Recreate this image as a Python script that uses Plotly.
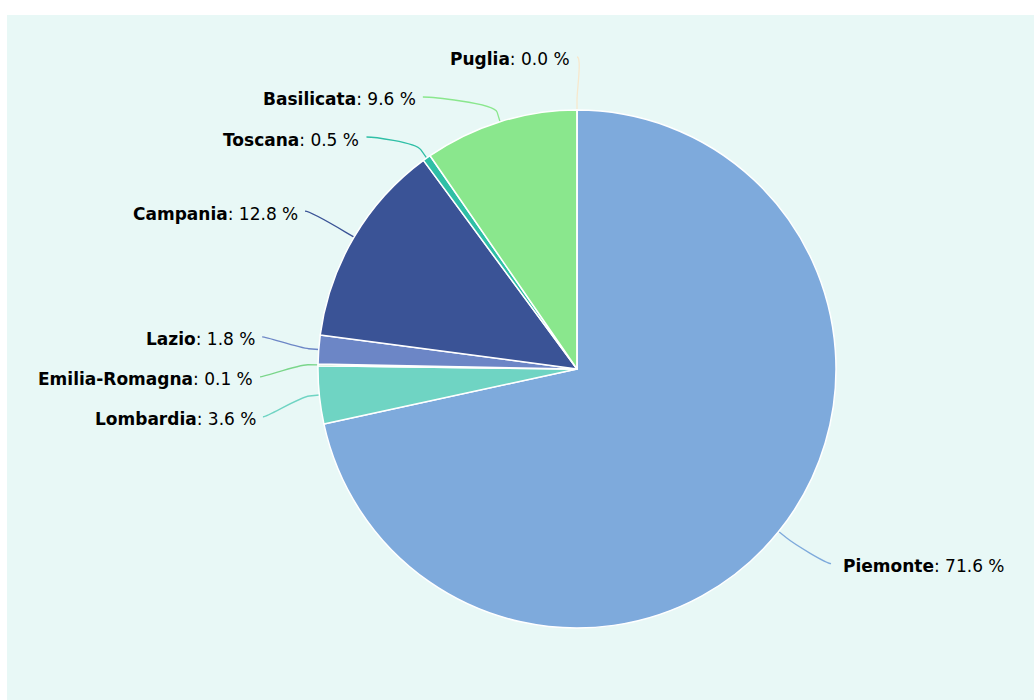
import math
import plotly.graph_objects as go

# ---------------- data ----------------
regions = ["Piemonte", "Lombardia", "Emilia-Romagna", "Lazio",
           "Campania", "Toscana", "Basilicata", "Puglia"]
shares = [71.6, 3.6, 0.1, 1.8, 12.8, 0.5, 9.6, 0.0]
colors = ["#7eaadc", "#6fd4c3", "#7ad68a", "#6c86c6",
          "#3a5396", "#2fbfa6", "#8ae78d", "#f7e8cd"]

# ---------------- layout constants ----------------
W, H = 1034, 700
CX, CY, RAD = 577, 369, 259          # pie centre / radius in px
LABEL_R = 310                        # natural label radius
GETX_R = 317                         # radius used to place labels horizontally
BREAK_R = RAD + 10                   # connector break radius
BOX = 40                             # label slot height
FONT = "DejaVu Sans"


def px(x):
    return x / W


def py(y):
    return 1 - y / H


total = sum(shares)
cum = 0.0
items = []
for name, v, c in zip(regions, shares, colors):
    mid = (cum + v / 2) / total
    cum += v
    th = 2 * math.pi * mid
    left = mid > 0.5
    items.append(dict(name=name, v=v, c=c, th=th, left=left,
                      target=CY - LABEL_R * math.cos(th)))


def distribute(lst, lo=57, hi=H - 40):
    lst = sorted(lst, key=lambda d: d["target"])
    clusters = [[d] for d in lst]

    def top_of(cl):
        ts = [d["target"] for d in cl]
        mid = (min(ts) + max(ts)) / 2
        if len(cl) > 1:
            mid += 4
        top = mid - BOX * (len(cl) - 1) / 2
        return min(max(top, lo), hi - BOX * (len(cl) - 1))

    changed = True
    while changed:
        changed = False
        for k in range(len(clusters) - 1):
            a, b = clusters[k], clusters[k + 1]
            if top_of(b) < top_of(a) + BOX * len(a):
                clusters[k] = a + b
                del clusters[k + 1]
                changed = True
                break
    for cl in clusters:
        t = top_of(cl)
        for i, d in enumerate(cl):
            d["y"] = t + BOX * i


distribute([d for d in items if d["left"]])
distribute([d for d in items if not d["left"]])

shapes = [dict(type="rect", xref="paper", yref="paper",
               x0=px(7), x1=1, y0=0, y1=py(15),
               fillcolor="#e8f8f6", line=dict(width=0), layer="below")]
annotations = []
for d in items:
    sgn = -1 if d["left"] else 1
    ly = d["y"]
    dy = ly - 5 - CY
    off = math.sqrt(max(GETX_R ** 2 - dy ** 2, 0))
    lx = CX + sgn * off
    tx = CX + RAD * math.sin(d["th"])
    ty = CY - RAD * math.cos(d["th"])
    bx = CX + BREAK_R * math.sin(d["th"])
    by = CY - BREAK_R * math.cos(d["th"])
    c1x = lx - sgn * 5
    c2x, c2y = 2 * bx - tx, 2 * by - ty
    path = (f"M {px(lx)},{py(ly)} C {px(c1x)},{py(ly)} {px(c2x)},{py(c2y)} "
            f"{px(bx)},{py(by)} L {px(tx)},{py(ty)}")
    shapes.append(dict(type="path", xref="paper", yref="paper", path=path,
                       line=dict(color=d["c"], width=1.3), layer="below"))
    if d["left"]:
        ax, anchor = lx - 5, "right"
    else:
        ax, anchor = lx + 10, "left"
    annotations.append(dict(
        x=px(ax), y=py(ly + 2.5), xref="paper", yref="paper",
        xanchor=anchor, yanchor="middle", showarrow=False,
        text=f"<b>{d['name']}</b>: {d['v']:.1f} %",
        font=dict(family=FONT, size=17, color="#000000")))

fig = go.Figure(go.Pie(
    labels=regions, values=shares, sort=False, direction="clockwise",
    rotation=0, marker=dict(colors=colors, line=dict(color="#ffffff", width=1.5)),
    textinfo="none", hoverinfo="label+percent", showlegend=False,
    domain=dict(x=[px(CX - RAD), px(CX + RAD)], y=[py(CY + RAD), py(CY - RAD)]),
))

fig.update_layout(
    width=W, height=H, margin=dict(l=0, r=0, t=0, b=0),
    paper_bgcolor="#ffffff", shapes=shapes, annotations=annotations,
    font=dict(family=FONT),
)

fig.write_html(
    "out.html",
    config={"displayModeBar": False},
    post_script="document.body.style.margin='0px';"
                "document.body.style.overflow='hidden';",
)
